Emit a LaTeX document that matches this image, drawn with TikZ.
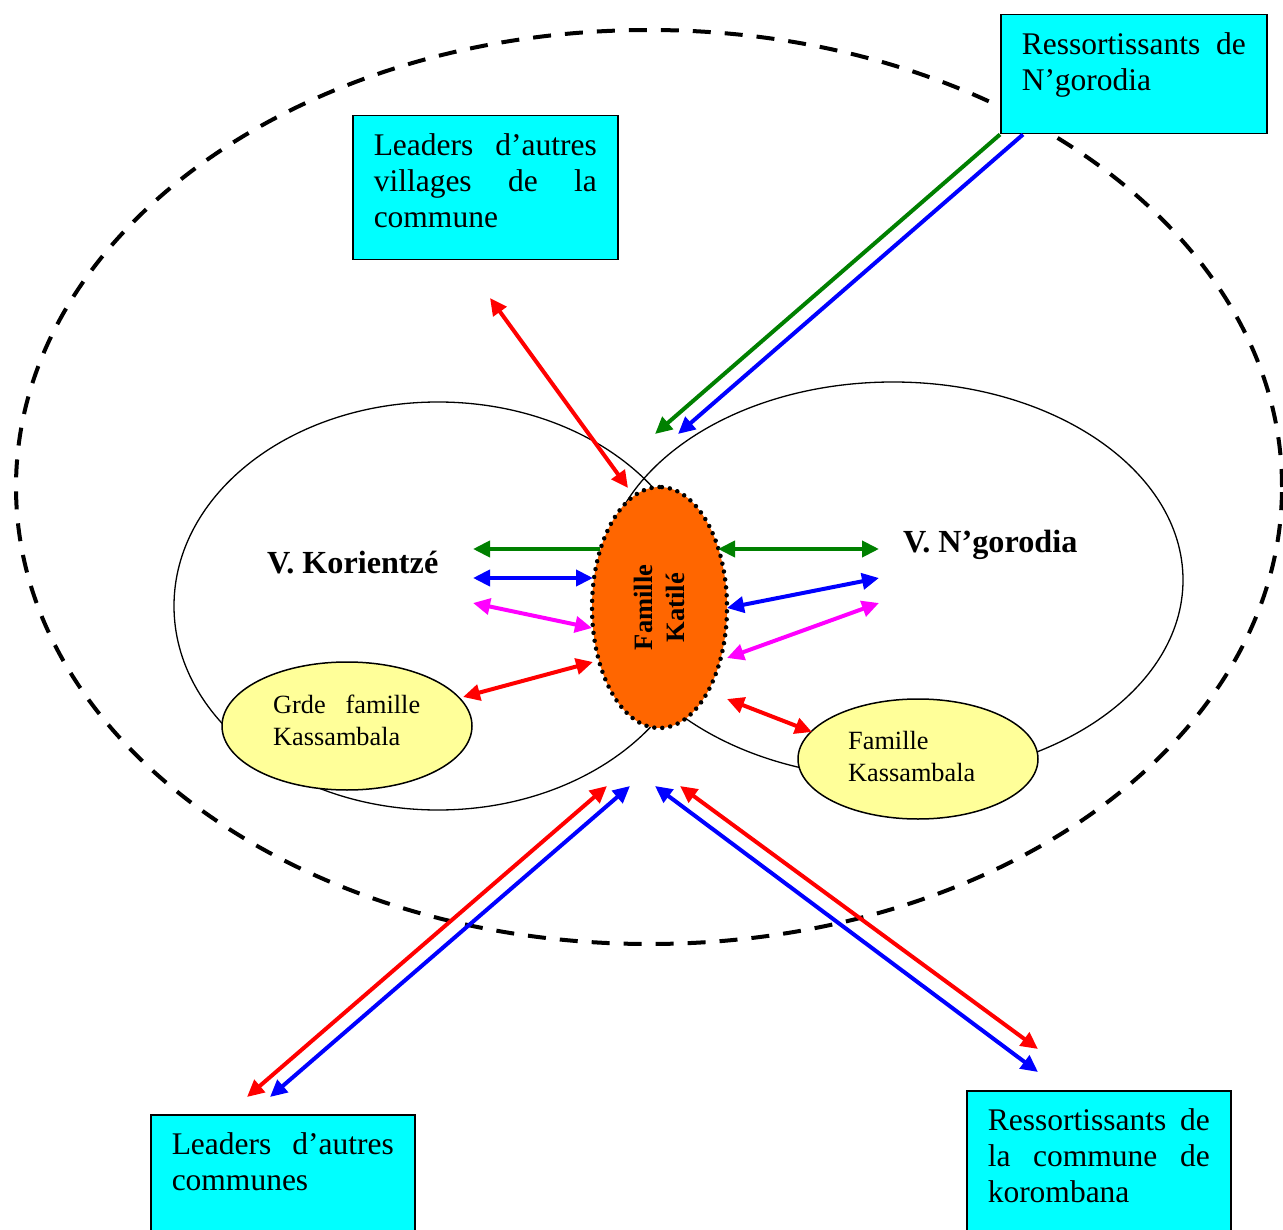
\documentclass[tikz,border=0pt]{standalone}
\usepackage{fontspec}
\setmainfont{Liberation Serif}
\usetikzlibrary{arrows.meta,shapes.geometric}
\definecolor{cyanbox}{HTML}{00FFFF}
\definecolor{yelfill}{HTML}{FFFF99}
\definecolor{orng}{HTML}{FF6600}
\definecolor{grn}{HTML}{008000}
\definecolor{blu}{HTML}{0000FF}
\definecolor{mag}{HTML}{FF00FF}
\definecolor{rd}{HTML}{FF0000}
\newcommand{\mybox}[3]{\parbox[c][#1][t]{#2}{\vspace*{14.8pt}\strut #3}}
\newcommand{\jl}[1]{\makebox[\linewidth][s]{#1}}
\begin{document}
\begin{tikzpicture}[x=1pt,y=-1pt,
  cbox/.style={draw=black, line width=1.5pt, fill=cyanbox, inner xsep=21pt, inner ysep=0pt,
    anchor=north west, font=\fontsize{31.5}{36}\selectfont},
  bigell/.style={ellipse, draw=black, line width=1.3pt, inner sep=0pt},
  yell/.style={ellipse, draw=black, line width=1.5pt, fill=yelfill, inner sep=0pt},
  ytxt/.style={inner sep=0pt, anchor=base west, font=\fontsize{26.3}{32}\selectfont},
  vlab/.style={inner sep=0pt, anchor=base west, font=\fontsize{32.2}{36}\selectfont\bfseries},
  arr/.style={line width=4pt, -{Triangle[length=17pt,width=16pt]}},
  darr/.style={line width=4pt, {Triangle[length=17pt,width=16pt]}-{Triangle[length=17pt,width=16pt]}}
]
\useasboundingbox (0,0) rectangle (1283,1230);

% outer dashed ellipse
\node[ellipse, draw=black, line width=4pt, dash pattern=on 18pt off 14pt, inner sep=0pt,
  minimum width=1266pt, minimum height=914pt] (outer) at (649,487) {};

% village ellipses
\node[bigell, minimum width=528pt, minimum height=408pt] (kor) at (438,606) {};
\node[bigell, minimum width=580pt, minimum height=396pt] (ngo) at (893,580) {};

\node[vlab] (korlab) at (267,573) {V. Korientzé};
\node[vlab] (ngolab) at (903,552) {V. N’gorodia};

% yellow families
\node[yell, minimum width=250pt, minimum height=128pt] (gk) at (347,726) {};
\node[ytxt] (gkt) at (273,713) {\parbox[t]{147pt}{\jl{Grde famille}\\Kassambala}};
\node[yell, minimum width=240pt, minimum height=120pt] (fk) at (918,759) {};
\node[ytxt] (fkt) at (848,749) {\parbox[t]{150pt}{Famille\\Kassambala}};

% central family
\node[ellipse, fill=orng, draw=black, line width=4.5pt, dash pattern=on 0pt off 8pt, line cap=round,
  rotate=90, minimum width=241pt, minimum height=135pt, inner sep=0pt,
  font=\fontsize{26.5}{32}\selectfont\bfseries, align=center] (kat) at (659.5,607.5) {Famille\\Katilé};

% boxes
\node[cbox] (b1) at (352,115) {\mybox{144pt}{223pt}{\jl{Leaders d’autres}\\\jl{villages de la}\\commune}};
\node[cbox] (b2) at (1000,14) {\mybox{119pt}{224pt}{\jl{Ressortissants de}\\N’gorodia}};
\node[cbox] (b3) at (150,1114) {\mybox{140pt}{222pt}{\jl{Leaders d’autres}\\communes}};
\node[cbox] (b4) at (966,1090) {\mybox{150pt}{222pt}{\jl{Ressortissants de}\\\jl{la commune de}\\korombana}};

% coordinates
\coordinate (r1a) at (490,298);  \coordinate (r1b) at (628,488);
\coordinate (g1b) at (655,434);  \coordinate (b1b) at (678,434);
\coordinate (gLa) at (600,549);  \coordinate (gLb) at (473,549);
\coordinate (gRa) at (718,549);  \coordinate (gRb) at (879,549);
\coordinate (bLa) at (473,578);  \coordinate (bLb) at (593,578);
\coordinate (bRa) at (727,608);  \coordinate (bRb) at (879,578);
\coordinate (mLa) at (473,603);  \coordinate (mLb) at (592,628);
\coordinate (mRa) at (727,658);  \coordinate (mRb) at (879,603);
\coordinate (rLa) at (463,697);  \coordinate (rLb) at (593,662);
\coordinate (rRa) at (727,699);  \coordinate (rRb) at (812,732);
\coordinate (rBLa) at (247,1097); \coordinate (rBLb) at (607,786);
\coordinate (bBLa) at (270,1097); \coordinate (bBLb) at (630,786);
\coordinate (bBRa) at (655,786);  \coordinate (bBRb) at (1038,1072);
\coordinate (rBRa) at (680,786);  \coordinate (rBRb) at (1038,1049);

% arrows
\draw[darr, rd] (r1a) -- (r1b);
\draw[arr, grn] (b2.south west) -- (g1b);
\draw[arr, blu] ([xshift=23pt]b2.south west) -- (b1b);
\draw[arr, grn] (gLa) -- (gLb);
\draw[darr, grn] (gRa) -- (gRb);
\draw[darr, blu] (bLa) -- (bLb);
\draw[darr, blu] (bRa) -- (bRb);
\draw[darr, mag] (mLa) -- (mLb);
\draw[darr, mag] (mRa) -- (mRb);
\draw[darr, rd] (rLa) -- (rLb);
\draw[darr, rd] (rRa) -- (rRb);
\draw[darr, rd] (rBLa) -- (rBLb);
\draw[darr, blu] (bBLa) -- (bBLb);
\draw[darr, blu] (bBRa) -- (bBRb);
\draw[darr, rd] (rBRa) -- (rBRb);
\end{tikzpicture}
\end{document}
